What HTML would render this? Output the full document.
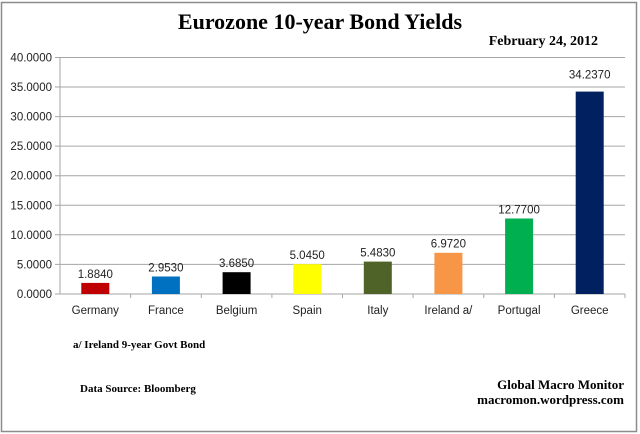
<!DOCTYPE html>
<html><head><meta charset="utf-8"><style>
body{margin:0;background:#fff;}
svg{display:block;}
</style></head><body>
<svg width="640" height="434" xmlns="http://www.w3.org/2000/svg" font-family="Liberation Sans, sans-serif">
<rect x="0" y="0" width="640" height="434" fill="#fff"/>
<rect x="1.5" y="2.5" width="635" height="429" fill="none" stroke="#8c8c8c" stroke-width="1.5"/>
<text x="320" y="29" text-anchor="middle" font-family="Liberation Serif, serif" font-weight="bold" font-size="22">Eurozone 10-year Bond Yields</text>
<text x="598" y="45" text-anchor="end" font-family="Liberation Serif, serif" font-weight="bold" font-size="14">February 24, 2012</text>
<g stroke="#a6a6a6" stroke-width="1">
<line x1="55" y1="57.5" x2="625" y2="57.5"/>
<line x1="55" y1="87" x2="625" y2="87"/>
<line x1="55" y1="116.6" x2="625" y2="116.6"/>
<line x1="55" y1="146.1" x2="625" y2="146.1"/>
<line x1="55" y1="175.7" x2="625" y2="175.7"/>
<line x1="55" y1="205.3" x2="625" y2="205.3"/>
<line x1="55" y1="234.8" x2="625" y2="234.8"/>
<line x1="55" y1="264.4" x2="625" y2="264.4"/>
<line x1="55" y1="294" x2="625" y2="294"/>
<line x1="60" y1="57.5" x2="60" y2="294"/>
<line x1="130.6" y1="294" x2="130.6" y2="298"/><line x1="201.3" y1="294" x2="201.3" y2="298"/><line x1="271.9" y1="294" x2="271.9" y2="298"/><line x1="342.5" y1="294" x2="342.5" y2="298"/><line x1="413.1" y1="294" x2="413.1" y2="298"/><line x1="483.8" y1="294" x2="483.8" y2="298"/><line x1="554.4" y1="294" x2="554.4" y2="298"/><line x1="625" y1="294" x2="625" y2="298"/>
</g>
<g font-size="11.5" text-anchor="end" fill="#222">
<text x="52" y="61.5">40.0000</text><text x="52" y="91">35.0000</text><text x="52" y="120.6">30.0000</text><text x="52" y="150.1">25.0000</text><text x="52" y="179.7">20.0000</text><text x="52" y="209.3">15.0000</text><text x="52" y="238.8">10.0000</text><text x="52" y="268.4">5.0000</text><text x="52" y="298">0.0000</text>
</g>
<g>
<rect x="81.3" y="282.9" width="28" height="11.1" fill="#c00000"/>
<rect x="151.9" y="276.5" width="28" height="17.5" fill="#0070c0"/>
<rect x="222.6" y="272.2" width="28" height="21.8" fill="#000"/>
<rect x="293.2" y="264.2" width="28" height="29.8" fill="#ffff00"/>
<rect x="363.8" y="261.6" width="28" height="32.4" fill="#4f6228"/>
<rect x="434.4" y="252.8" width="28" height="41.2" fill="#f79646"/>
<rect x="505.1" y="218.5" width="28" height="75.5" fill="#00b050"/>
<rect x="575.7" y="91.6" width="28" height="202.4" fill="#002060"/>
</g>
<g font-size="11.5" text-anchor="middle" fill="#222">
<text x="95.3" y="278">1.8840</text><text x="165.9" y="271.5">2.9530</text><text x="236.6" y="267">3.6850</text><text x="307.2" y="259">5.0450</text><text x="377.8" y="256.5">5.4830</text><text x="448.4" y="247.5">6.9720</text><text x="519.1" y="213.5">12.7700</text><text x="589.7" y="78.5">34.2370</text>
<text x="95.3" y="314">Germany</text><text x="165.9" y="314">France</text><text x="236.6" y="314">Belgium</text><text x="307.2" y="314">Spain</text><text x="377.8" y="314">Italy</text><text x="448.4" y="314">Ireland  a/</text><text x="519.1" y="314">Portugal</text><text x="589.7" y="314">Greece</text>
</g>
<g font-family="Liberation Serif, serif" font-weight="bold" font-size="11">
<text x="73" y="348">a/ Ireland 9-year Govt Bond</text>
<text x="80" y="392">Data Source:  Bloomberg</text>
</g>
<g font-family="Liberation Serif, serif" font-weight="bold" font-size="13" text-anchor="end">
<text x="624" y="389">Global Macro Monitor</text>
<text x="624" y="404">macromon.wordpress.com</text>
</g>
</svg>
</body></html>
